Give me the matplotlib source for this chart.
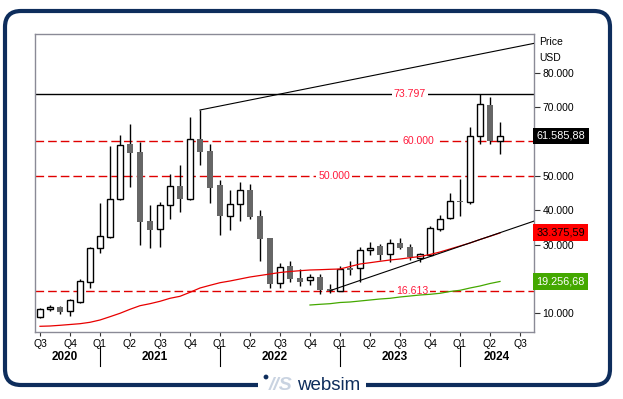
import matplotlib
matplotlib.use('Agg')
import matplotlib.pyplot as plt
import matplotlib.transforms as mtransforms
from matplotlib.patches import FancyBboxPatch, Rectangle, Circle

plt.rcParams['font.family'] = ['Liberation Sans', 'DejaVu Sans']

# ---------------- data (monthly candles, Jul 2020 .. May 2024) ----------------
opens = [9008, 11161, 11830, 10580, 13285, 19191, 28996, 32197, 43166, 59343,
         56928, 36852, 34437, 41420, 47035, 43253, 60623, 57219, 47326, 38394,
         41711, 45872, 38307, 31906, 18726, 23672, 20268, 19599, 20472, 17155,
         16573, 23265, 23090, 28327, 29491, 27163, 30364, 29287, 26174, 26960,
         34525, 37725, 42600, 42293, 61583, 70602, 60128]
highs = [11540, 12325, 12121, 14158, 19890, 29200, 42002, 58761, 61874, 65074,
         59924, 41507, 42293, 50439, 53145, 67198, 69148, 59255, 48781, 45872,
         48199, 47617, 40053, 32000, 24545, 25214, 22887, 21344, 21432, 18522,
         23700, 25214, 29375, 30829, 30073, 31528, 31819, 30248, 27629, 35397,
         38511, 44999, 48985, 64201, 73797, 72843, 65569]
lows = [8717, 10580, 9706, 9170, 12907, 17446, 27629, 31993, 42875, 46832,
        29869, 28909, 29200, 37347, 39558, 42962, 53145, 42002, 32779, 34234,
        36939, 37434, 25301, 17446, 17446, 19191, 18028, 18231, 15525, 15991,
        16398, 21141, 19191, 26960, 25505, 24836, 28706, 25505, 24836, 26670,
        34030, 37434, 38394, 41711, 59343, 59168, 56433]
closes = [11161, 11743, 10463, 13780, 19308, 28996, 32401, 43166, 58877, 56724,
          36648, 34234, 41420, 46948, 43340, 60623, 57015, 46366, 38394, 41798,
          45872, 38103, 31615, 18610, 23556, 20064, 19191, 20559, 16777, 16613,
          22887, 22683, 28327, 29084, 27047, 30364, 29084, 26291, 27163, 34728,
          37579, 42584, 42450, 61496, 70806, 60128, 61586]

# long moving average (red), one value per candle
ma_long = [6215, 6302, 6506, 6739, 6972, 7379, 8048, 9008, 9997, 11161,
           12209, 12791, 13489, 14362, 14944, 16107, 17358, 18144, 18900, 19395,
           19977, 20559, 20995, 21432, 21868, 22159, 22392, 22596, 22683, 22799,
           22887, 23614, 24341, 24719, 25127, 25505, 25796, 26174, 26523, 27105,
           27833, 28706, 29578, 30451, 31470, 32401, 33376]
# second moving average (green), starts at candle 27
ma_green_start = 27
ma_green = [12412, 12616, 12791, 13140, 13285, 13576, 13867, 14158, 14362, 14740,
            15031, 15322, 15525, 15817, 16340, 16690, 17358, 17940, 18668, 19257]

quarter_labels = ['Q3', 'Q4', 'Q1', 'Q2', 'Q3', 'Q4', 'Q1', 'Q2', 'Q3', 'Q4',
                  'Q1', 'Q2', 'Q3', 'Q4', 'Q1', 'Q2', 'Q3']
year_labels = ['2020', '2021', '2022', '2023', '2024']
year_label_pos = [2.5, 11.5, 23.5, 35.5, 45.7]
year_sep_pos = [6, 18, 30, 42]

y_ticks = [10000, 20000, 30000, 40000, 50000, 60000, 70000, 80000]
hidden_tick_labels = [20000, 60000]   # covered by the value boxes
resistance = 73797
dashed_levels = [60000, 50000, 16613]
dashed_label_x = [37.8, 29.4, 37.2]
upper_trend = [(16, 69148), (49.43, 88554)]
lower_trend = [(29, 16573), (49.43, 36852)]
last_price = 61585.88
red_value = 33375.59
green_value = 19256.68


def fmt(v, dec=False):
    if dec:
        s = f"{v:,.2f}"
        return s.replace(',', 'X').replace('.', ',').replace('X', '.')
    return f"{int(round(v)):,}".replace(',', '.')


# ---------------- figure ----------------
W, H = 623, 399
fig = plt.figure(figsize=(W / 100, H / 100), dpi=100)
fig.patch.set_facecolor('white')

# background axes in pixel coordinates for frame and logo
bg = fig.add_axes([0, 0, 1, 1], zorder=0)
bg.set_xlim(0, W)
bg.set_ylim(H, 0)
bg.axis('off')
navy = '#0e2d5c'
frame = FancyBboxPatch((5, 11), 605, 374, boxstyle='round,pad=0,rounding_size=16',
                       fc='none', ec=navy, lw=3.0)
bg.add_patch(frame)
bg.add_patch(Rectangle((258, 375), 108, 20, fc='white', ec='none', zorder=3))
bg.text(329, 386, 'websim', fontsize=13.5, color=navy, ha='center', va='center', zorder=4)
bg.text(281, 385, '//S', fontsize=14, color='#c9d3e1', ha='center', va='center',
        fontweight='bold', fontstyle='italic', zorder=4)
bg.add_patch(Circle((266, 377), 2.4, fc=navy, ec='none', zorder=5))

# main axes
L, R, T, B = 35.3, 534.3, 34.3, 332.3
ax = fig.add_axes([L / W, 1 - B / H, (R - L) / W, (B - T) / H], zorder=1)
ax.set_xlim(-0.47, 49.43)
ax.set_ylim(4469, 91172)
ax.set_facecolor('white')
for s in ax.spines.values():
    s.set_color('#8a8a96')
    s.set_linewidth(1.0)

n = len(opens)
xs = list(range(n))
# wicks
ax.vlines(xs, lows, highs, color='black', lw=1.0, zorder=3)
for i in xs:
    o, c = opens[i], closes[i]
    if c > o:
        ax.bar(i, c - o, bottom=o, width=0.6, color='white', edgecolor='black',
               linewidth=1.0, zorder=4)
    else:
        h = max(o - c, 200)
        ax.bar(i, h, bottom=min(o, c), width=0.65, color='#666666', edgecolor='none',
               zorder=4)

# moving averages
ax.plot(xs, ma_long, color='#e80000', lw=0.9, zorder=5)
ax.plot(range(ma_green_start, ma_green_start + len(ma_green)), ma_green,
        color='#44a800', lw=0.9, zorder=8)

# resistance line and trendlines
ax.axhline(resistance, color='black', lw=1.0, zorder=2)
ax.text(37, resistance, fmt(resistance), color='#ff1a3c', fontsize=7.6, ha='center',
        va='center', zorder=6, bbox=dict(fc='white', ec='none', pad=1.2))
for (x0, y0), (x1, y1) in [upper_trend, lower_trend]:
    ax.plot([x0, x1], [y0, y1], color='black', lw=0.8, zorder=6)

for lvl, lx in zip(dashed_levels, dashed_label_x):
    ax.axhline(lvl, color='#e00000', lw=1.0, ls=(0, (6.2, 2.9)), zorder=2)
    ax.text(lx, lvl, fmt(lvl), color='#ff1a3c', fontsize=7.6, ha='center',
            va='center', zorder=6, bbox=dict(fc='white', ec='none', pad=1.2))

# axes ticks
ax.yaxis.tick_right()
ax.set_yticks(y_ticks)
ax.set_yticklabels(['' if v in hidden_tick_labels else fmt(v) for v in y_ticks])
ax.tick_params(axis='y', direction='out', length=4, width=0.8, color='#333333',
               labelsize=7.5, pad=2)
ax.set_xticks(range(0, 49, 3))
ax.set_xticklabels(quarter_labels)
ax.tick_params(axis='x', direction='out', length=3, width=0.8, color='#333333',
               labelsize=7.5, pad=2)

trans_xa = mtransforms.blended_transform_factory(ax.transData, ax.transAxes)
for lab, px in zip(year_labels, year_label_pos):
    ax.text(px, -0.083, lab, transform=trans_xa, ha='center', va='center',
            fontsize=8.5, fontweight='bold', clip_on=False)
for px in year_sep_pos:
    ax.plot([px, px], [-0.045, -0.113], transform=trans_xa, color='black', lw=0.8,
            clip_on=False)

# axis title
ax.text(1.01, 0.975, 'Price', transform=ax.transAxes, fontsize=7.5, ha='left',
        va='center', clip_on=False)
ax.text(1.01, 0.922, 'USD', transform=ax.transAxes, fontsize=7.5, ha='left',
        va='center', clip_on=False)

# value boxes on the right
trans_ay = mtransforms.blended_transform_factory(ax.transAxes, ax.transData)
for val, fc, tc in [(last_price, 'black', 'white'), (red_value, '#ff0000', 'black'),
                    (green_value, '#44a800', 'white')]:
    ax.text(1.004, val, fmt(val, dec=True), transform=trans_ay, fontsize=7.8,
            color=tc, ha='left', va='center', clip_on=False, zorder=10,
            bbox=dict(fc=fc, ec='none', boxstyle='square,pad=0.32'))

fig.savefig('out.png', dpi=100, facecolor='white')
